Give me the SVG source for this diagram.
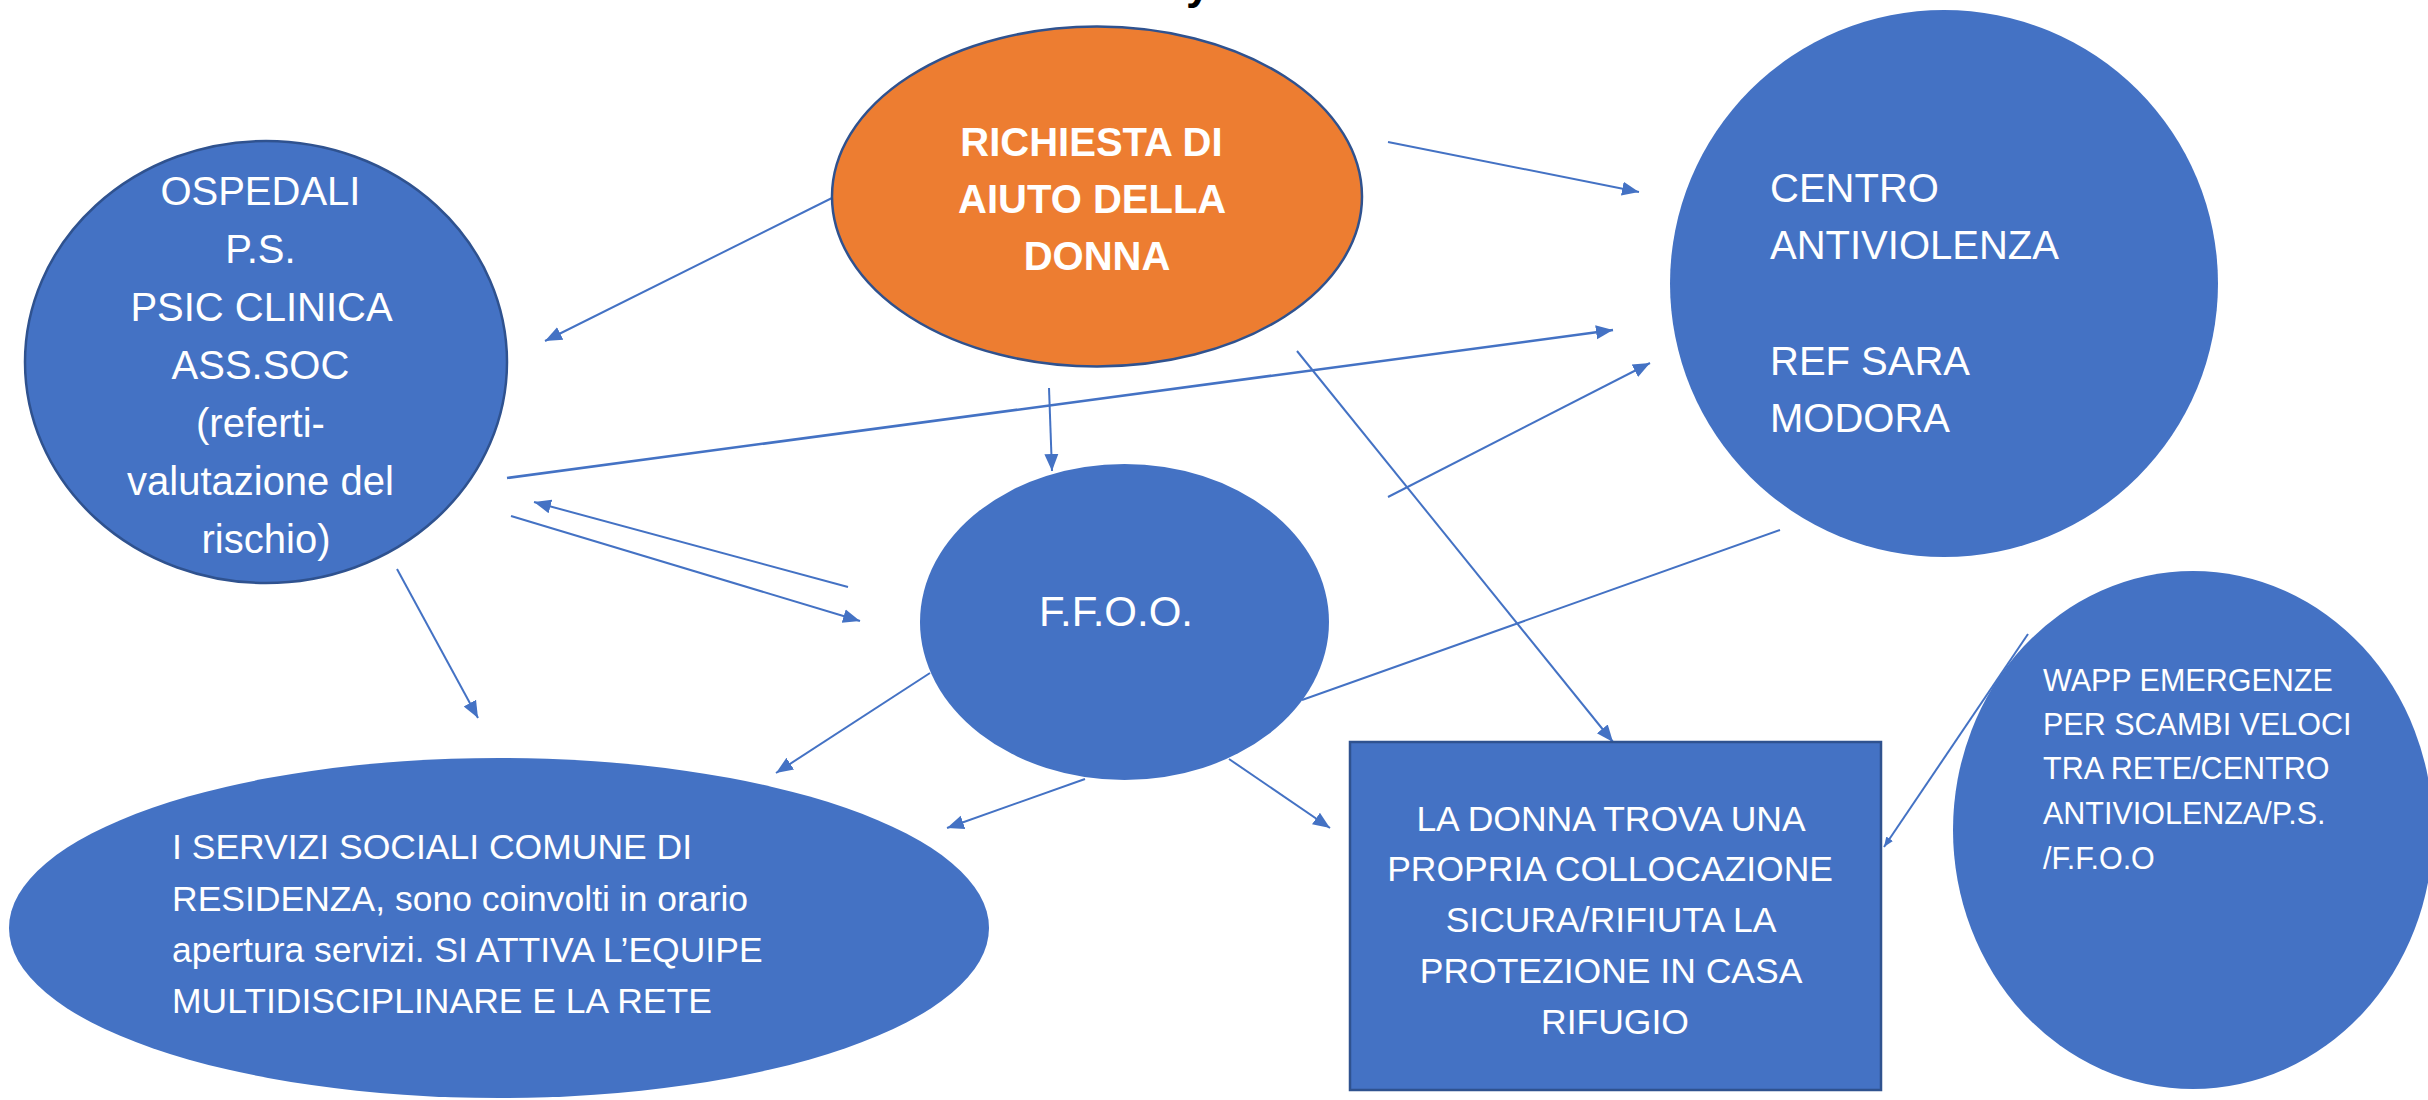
<svg xmlns="http://www.w3.org/2000/svg" width="2428" height="1100" viewBox="0 0 2428 1100">
<style>
.node{fill:#4472C4}
.out{stroke:#2F528F;stroke-width:2.5}
.t{font-family:"Liberation Sans",Arial,sans-serif;fill:#FFFFFF}
.c{text-anchor:middle}
.ln{stroke:#4472C4;stroke-width:2;fill:none}
</style>
<defs>
<marker id="ah" markerUnits="userSpaceOnUse" markerWidth="20" markerHeight="16" refX="17" refY="8" orient="auto">
<path d="M0,1 L17,8 L0,15 Z" fill="#4472C4"/>
</marker>
<marker id="ahs" markerUnits="userSpaceOnUse" markerWidth="12" markerHeight="10" refX="10" refY="5" orient="auto">
<path d="M0,1 L10,5 L0,9 Z" fill="#4472C4"/>
</marker>
</defs>
<rect width="2428" height="1100" fill="#FFFFFF"/>
<text x="1186" y="-1" font-family="Liberation Sans,Arial,sans-serif" font-weight="bold" font-size="44" fill="#000000">y</text>

<g id="connectors">
<line class="ln" x1="842" y1="193" x2="545" y2="341" marker-end="url(#ah)"/>
<line class="ln" x1="1049" y1="388" x2="1052" y2="471" marker-end="url(#ah)"/>
<line class="ln" x1="1388" y1="142" x2="1639" y2="192" marker-end="url(#ah)"/>
<line class="ln" style="stroke-width:2.5" x1="507" y1="478" x2="1613" y2="330" marker-end="url(#ah)"/>
<line class="ln" x1="1388" y1="497" x2="1650" y2="363" marker-end="url(#ah)"/>
<line class="ln" x1="1297" y1="351" x2="1613" y2="742" marker-end="url(#ah)"/>
<line class="ln" x1="1780" y1="530" x2="1302" y2="700"/>
<line class="ln" x1="848" y1="587" x2="534" y2="502" marker-end="url(#ah)"/>
<line class="ln" x1="511" y1="516" x2="860" y2="621" marker-end="url(#ah)"/>
<line class="ln" x1="397" y1="569" x2="478" y2="718" marker-end="url(#ah)"/>
<line class="ln" x1="930" y1="673" x2="776" y2="773" marker-end="url(#ah)"/>
<line class="ln" x1="1085" y1="779" x2="947" y2="828" marker-end="url(#ah)"/>
<line class="ln" x1="1229" y1="759" x2="1330" y2="828" marker-end="url(#ah)"/>
</g>

<g id="ospedali">
<ellipse class="node out" cx="266" cy="362" rx="241" ry="221"/>
<text class="t c" font-size="40">
<tspan x="266" y="205">OSPEDALI</tspan>
<tspan x="266" y="263">P.S.</tspan>
<tspan x="266" y="321">PSIC CLINICA</tspan>
<tspan x="266" y="379">ASS.SOC</tspan>
<tspan x="266" y="437">(referti-</tspan>
<tspan x="266" y="495">valutazione del</tspan>
<tspan x="266" y="553">rischio)</tspan>
</text>
</g>

<g id="richiesta">
<ellipse cx="1097" cy="196.5" rx="265" ry="170" fill="#ED7D31" class="out"/>
<text class="t c" font-size="40" font-weight="bold">
<tspan x="1097" y="156">RICHIESTA DI</tspan>
<tspan x="1097" y="213">AIUTO DELLA</tspan>
<tspan x="1097" y="270">DONNA</tspan>
</text>
</g>

<g id="centro">
<ellipse class="node" cx="1944" cy="283.5" rx="274" ry="273.5"/>
<text class="t" font-size="40">
<tspan x="1770" y="202">CENTRO</tspan>
<tspan x="1770" y="259">ANTIVIOLENZA</tspan>
<tspan x="1770" y="375">REF SARA</tspan>
<tspan x="1770" y="432">MODORA</tspan>
</text>
</g>

<g id="ffoo">
<ellipse class="node" cx="1124.5" cy="622" rx="204.5" ry="158"/>
<text class="t c" font-size="42" x="1116" y="626">F.F.O.O.</text>
</g>

<g id="servizi">
<ellipse class="node" cx="499" cy="928" rx="490" ry="170"/>
<text class="t" font-size="35.5">
<tspan x="172" y="859">I SERVIZI SOCIALI COMUNE DI</tspan>
<tspan x="172" y="911">RESIDENZA, sono coinvolti in orario</tspan>
<tspan x="172" y="962">apertura servizi. SI ATTIVA L’EQUIPE</tspan>
<tspan x="172" y="1013">MULTIDISCIPLINARE E LA RETE</tspan>
</text>
</g>

<g id="donna">
<rect class="node out" x="1350" y="742" width="531" height="348"/>
<text class="t c" font-size="35.5">
<tspan x="1615" y="831">LA DONNA TROVA UNA</tspan>
<tspan x="1615" y="881">PROPRIA COLLOCAZIONE</tspan>
<tspan x="1615" y="932">SICURA/RIFIUTA LA</tspan>
<tspan x="1615" y="983">PROTEZIONE IN CASA</tspan>
<tspan x="1615" y="1034">RIFUGIO</tspan>
</text>
</g>

<g id="wapp">
<ellipse class="node" cx="2193" cy="830" rx="240" ry="259"/>
<text class="t" font-size="30.5">
<tspan x="2043" y="691">WAPP EMERGENZE</tspan>
<tspan x="2043" y="735">PER SCAMBI VELOCI</tspan>
<tspan x="2043" y="779">TRA RETE/CENTRO</tspan>
<tspan x="2043" y="824">ANTIVIOLENZA/P.S.</tspan>
<tspan x="2043" y="869">/F.F.O.O</tspan>
</text>
</g>

<g id="connectors-top">
<line class="ln" x1="2028" y1="634" x2="1884" y2="847" marker-end="url(#ahs)"/>
</g>
</svg>
